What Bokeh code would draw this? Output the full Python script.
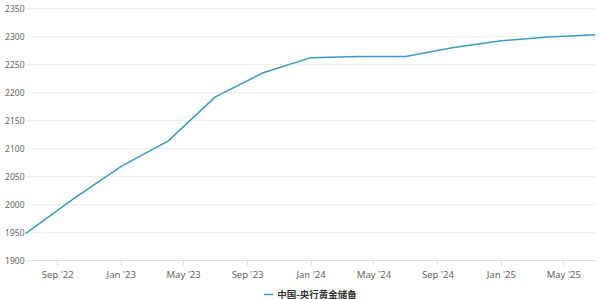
import pandas as pd
from bokeh.plotting import figure
from bokeh.layouts import column
from bokeh.models import (ColumnDataSource, DatetimeTicker, MonthsTicker, DatetimeTickFormatter,
                          FixedTicker, Range1d, Legend, LegendItem)
from bokeh.embed import file_html
from bokeh.resources import INLINE

dates = ["2022-07-01", "2022-10-01", "2023-01-01", "2023-04-01", "2023-07-01",
         "2023-10-01", "2024-01-01", "2024-04-01", "2024-07-01", "2024-10-01",
         "2025-01-01", "2025-04-01", "2025-07-01"]
reserves = [1948, 2010, 2068, 2113, 2192, 2235, 2262, 2264, 2264, 2280, 2292, 2299, 2303]
y_ticks = [1900, 1950, 2000, 2050, 2100, 2150, 2200, 2250, 2300, 2350]
series_name = "中国-央行黄金储备"
line_color = "#3a9cc4"

src = ColumnDataSource(dict(x=pd.to_datetime(dates), y=reserves))

p = figure(frame_width=570, frame_height=260, x_axis_type="datetime", output_backend="svg",
           toolbar_location=None, min_border_left=25, min_border_right=5,
           min_border_top=0, min_border_bottom=0,
           x_range=Range1d(pd.Timestamp("2022-07-01"), pd.Timestamp("2025-07-01")),
           y_range=Range1d(1900, 2364))
p.outline_line_color = None
p.background_fill_color = "white"
p.border_fill_color = "white"

r = p.line("x", "y", source=src, line_color=line_color, line_width=1.5)

p.xaxis.ticker = DatetimeTicker(tickers=[MonthsTicker(months=[0, 4, 8])])
p.xaxis.formatter = DatetimeTickFormatter(months="%b '%y", years="%b '%y", days="%b '%y")
p.xaxis.axis_line_color = "#dddddd"
p.xaxis.major_tick_line_color = "#dddddd"
p.xaxis.major_tick_out = 5
p.xaxis.major_tick_in = 0
p.xaxis.minor_tick_line_color = None
p.xaxis.major_label_text_font = "Noto Sans"
p.xaxis.major_label_text_font_size = "9.5px"
p.xaxis.major_label_text_color = "#666666"
p.xaxis.major_label_standoff = 2

p.yaxis.ticker = FixedTicker(ticks=y_ticks)
p.yaxis.axis_line_color = None
p.yaxis.major_tick_line_color = None
p.yaxis.minor_tick_line_color = None
p.yaxis.major_tick_out = 0
p.yaxis.major_tick_in = 0
p.yaxis.major_label_text_font = "Noto Sans"
p.yaxis.major_label_text_font_size = "8.5px"
p.yaxis.major_label_text_color = "#666666"
p.yaxis.major_label_standoff = 1

p.xgrid.grid_line_color = None
p.ygrid.grid_line_color = "#eeeeee"
p.ygrid.ticker = FixedTicker(ticks=y_ticks)

# legend strip below the chart (its line shares the data but lies outside this strip's range)
p2 = figure(width=600, height=21, output_backend="svg", toolbar_location=None,
            x_axis_location=None, y_axis_location=None,
            min_border_left=0, min_border_right=0, min_border_top=0, min_border_bottom=0,
            x_range=Range1d(0, 1), y_range=Range1d(0, 1))
p2.outline_line_color = None
p2.grid.grid_line_color = None
r2 = p2.line("x", "y", source=src, line_color=line_color, line_width=1.5)
legend = Legend(items=[LegendItem(label=series_name, renderers=[r2])],
                orientation="horizontal", location="center",
                label_text_font="Noto Sans CJK SC", label_text_font_size="9.5px",
                label_text_font_style="bold", label_text_color="#333333",
                glyph_width=10, glyph_height=8, label_height=10, label_standoff=4,
                padding=0, margin=0, border_line_color=None, background_fill_alpha=0)
p2.add_layout(legend)

open("out.html", "w").write(file_html(column(p, p2, spacing=0), INLINE))
